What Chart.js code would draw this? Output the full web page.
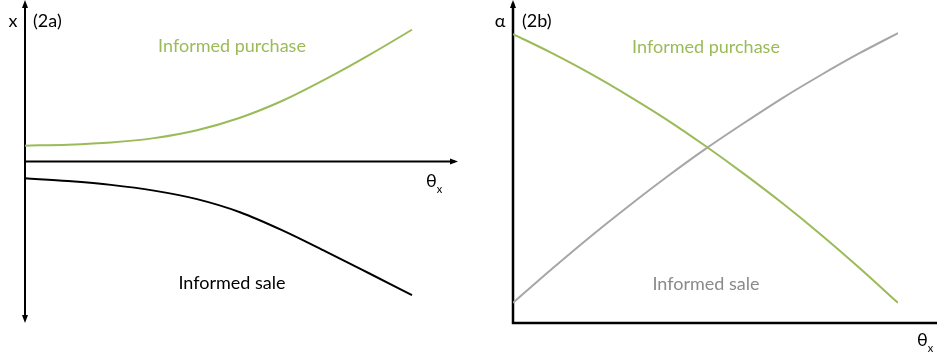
<!DOCTYPE html>
<html>
<head>
<meta charset="utf-8">
<title>Informed trading</title>
<script src="https://cdn.jsdelivr.net/npm/chart.js@4.4.1/dist/chart.umd.min.js"></script>
<style>
  body { margin: 0; background: #fff; }
  #wrap { position: relative; width: 937px; height: 360px; }
  canvas { position: absolute; top: 0; }
  #chartA { left: 0; }
  #chartB { left: 470px; }
</style>
</head>
<body>
<div id="wrap">
  <canvas id="chartA" width="470" height="360"></canvas>
  <canvas id="chartB" width="467" height="360"></canvas>
</div>
<script>
// Panel (2a): order size x against theta_x
const thetaA = [0, 1, 2, 3, 4, 5, 6, 7, 8, 9];
const purchaseA = [0.80, 0.85, 0.96, 1.18, 1.58, 2.21, 3.08, 4.17, 5.37, 6.65];
const saleA = [-0.85, -0.99, -1.18, -1.47, -1.90, -2.56, -3.49, -4.55, -5.64, -6.74];

// Panel (2b): alpha against theta_x
const thetaB = [0, 1, 2, 3, 4, 5, 6, 7, 8, 9, 10];
const purchaseB = [9.03, 8.44, 7.80, 7.10, 6.35, 5.53, 4.66, 3.74, 2.76, 1.72, 0.63];
const saleB = [0.63, 1.68, 2.69, 3.65, 4.57, 5.44, 6.25, 7.03, 7.75, 8.43, 9.06];

const GREEN = '#9bbb59';
const GREY_LINE = '#a6a6a6';
const GREY_TEXT = '#8a8a8a';
const FONT = 'Lato, "Open Sans", sans-serif';

function pairs(xs, ys) {
  return xs.map((x, i) => ({ x: x, y: ys[i] }));
}

function arrow(ctx, x, y, dir) {
  // small filled arrow head, dir: 'up' | 'down' | 'right'
  ctx.beginPath();
  if (dir === 'up') { ctx.moveTo(x, y - 3); ctx.lineTo(x - 3, y + 5); ctx.lineTo(x + 3, y + 5); }
  if (dir === 'down') { ctx.moveTo(x, y + 3); ctx.lineTo(x - 3, y - 5); ctx.lineTo(x + 3, y - 5); }
  if (dir === 'right') { ctx.moveTo(x + 3, y); ctx.lineTo(x - 5, y - 3); ctx.lineTo(x - 5, y + 3); }
  ctx.closePath();
  ctx.fill();
}

function text(ctx, str, x, y, color, size, align) {
  ctx.fillStyle = color;
  ctx.font = size + 'px ' + FONT;
  ctx.textAlign = align || 'center';
  ctx.textBaseline = 'middle';
  ctx.fillText(str, x, y);
}

function thetaLabel(ctx, x, y) {
  text(ctx, 'θ', x, y, '#000', 18, 'left');
  const w = ctx.measureText('θ').width;
  text(ctx, 'x', x + w, y + 8, '#000', 11, 'left');
}

const axesA = {
  id: 'axesA',
  beforeDatasetsDraw(chart) {
    const ctx = chart.ctx, xs = chart.scales.x, ys = chart.scales.y;
    const x0 = xs.getPixelForValue(0);
    const y0 = ys.getPixelForValue(0);
    ctx.save();
    ctx.strokeStyle = '#000';
    ctx.fillStyle = '#000';
    ctx.lineWidth = 2;
    ctx.beginPath();
    ctx.moveTo(x0, chart.chartArea.top);
    ctx.lineTo(x0, chart.chartArea.bottom);
    ctx.moveTo(x0, y0);
    ctx.lineTo(chart.chartArea.right, y0);
    ctx.stroke();
    arrow(ctx, x0, chart.chartArea.top, 'up');
    arrow(ctx, x0, chart.chartArea.bottom, 'down');
    arrow(ctx, chart.chartArea.right, y0, 'right');
    ctx.restore();
  },
  afterDatasetsDraw(chart) {
    const ctx = chart.ctx;
    ctx.save();
    text(ctx, 'x', 13, 21, '#000', 18);
    text(ctx, '(2a)', 33, 21, '#000', 18, 'left');
    text(ctx, 'Informed purchase', 232, 46, GREEN, 18);
    text(ctx, 'Informed sale', 232, 283, '#000', 18);
    thetaLabel(ctx, 426, 181);
    ctx.restore();
  }
};

const axesB = {
  id: 'axesB',
  beforeDatasetsDraw(chart) {
    const ctx = chart.ctx, xs = chart.scales.x, ys = chart.scales.y;
    const x0 = xs.getPixelForValue(0);
    const y0 = ys.getPixelForValue(0);
    ctx.save();
    ctx.strokeStyle = '#000';
    ctx.fillStyle = '#000';
    ctx.lineWidth = 2.5;
    ctx.beginPath();
    ctx.moveTo(x0, chart.chartArea.top);
    ctx.lineTo(x0, y0);
    ctx.lineTo(chart.width, y0);
    ctx.stroke();
    arrow(ctx, x0, chart.chartArea.top, 'up');
    ctx.restore();
  },
  afterDatasetsDraw(chart) {
    const ctx = chart.ctx;
    ctx.save();
    text(ctx, 'α', 30, 21, '#000', 18);
    text(ctx, '(2b)', 52, 21, '#000', 18, 'left');
    text(ctx, 'Informed purchase', 236, 47, GREEN, 18);
    text(ctx, 'Informed sale', 236, 284, GREY_TEXT, 18);
    thetaLabel(ctx, 447, 340);
    ctx.restore();
  }
};

function lineSet(data, color) {
  return {
    data: data,
    borderColor: color,
    borderWidth: 2,
    pointRadius: 0,
    fill: false,
    cubicInterpolationMode: 'monotone'
  };
}

function baseOptions(xmin, xmax, ymin, ymax, padding) {
  return {
    responsive: false,
    animation: false,
    layout: { padding: padding },
    plugins: { legend: { display: false }, tooltip: { enabled: false } },
    scales: {
      x: { type: 'linear', min: xmin, max: xmax, display: false },
      y: { type: 'linear', min: ymin, max: ymax, display: false }
    }
  };
}

new Chart(document.getElementById('chartA'), {
  type: 'line',
  data: {
    datasets: [
      lineSet(pairs(thetaA, purchaseA), GREEN),
      lineSet(pairs(thetaA, saleA), '#000')
    ]
  },
  options: baseOptions(0, 10, -8, 8, { left: 25, right: 15, top: 3, bottom: 40 }),
  plugins: [axesA]
});

new Chart(document.getElementById('chartB'), {
  type: 'line',
  data: {
    datasets: [
      lineSet(pairs(thetaB, purchaseB), GREEN),
      lineSet(pairs(thetaB, saleB), GREY_LINE)
    ]
  },
  options: baseOptions(0, 10, 0, 10, { left: 43, right: 39, top: 3, bottom: 37 }),
  plugins: [axesB]
});
</script>
</body>
</html>
